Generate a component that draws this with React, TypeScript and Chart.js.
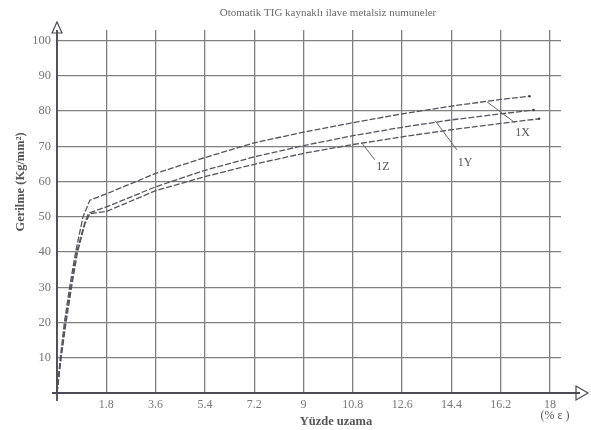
import React, { useEffect, useRef } from 'react';
import { Chart, registerables } from 'chart.js';

Chart.register(...registerables);

const chartTitle = 'Otomatik TIG kaynaklı ilave metalsiz numuneler';
const xAxisTitle = 'Yüzde uzama';
const xUnitLabel = '(% ε )';
const yAxisTitle = 'Gerilme (Kg/mm²)';

const xTickValues = [1.8, 3.6, 5.4, 7.2, 9, 10.8, 12.6, 14.4, 16.2, 18];
const xTickLabels = ['1.8', '3.6', '5.4', '7.2', '9', '10.8', '12.6', '14.4', '16.2', '18'];
const yTickValues = [0, 10, 20, 30, 40, 50, 60, 70, 80, 90, 100];
const yTickLabels = ['', '10', '20', '30', '40', '50', '60', '70', '80', '90', '100'];

const seriesNames = ['1X', '1Y', '1Z'];

const strain1X = [0, 0.12, 0.27, 0.46, 0.68, 0.95, 1.2, 1.8, 3.6, 5.4, 7.2, 9, 10.8, 12.6, 14.4, 16.2, 17.25];
const stress1X = [0, 10, 20, 30, 40, 50, 54.7, 56.5, 62.3, 66.8, 71, 74, 76.7, 79.2, 81.4, 83.3, 84.2];

const strain1Y = [0, 0.14, 0.3, 0.5, 0.72, 1.0, 1.15, 1.8, 3.6, 5.4, 7.2, 9, 10.8, 12.6, 14.4, 16.2, 17.4];
const stress1Y = [0, 10, 20, 30, 40, 48, 51, 52.8, 58.5, 63.2, 67, 70.2, 73, 75.4, 77.5, 79.2, 80.3];

const strain1Z = [0, 0.15, 0.33, 0.53, 0.75, 1.02, 1.2, 1.8, 3.6, 5.4, 7.2, 9, 10.8, 12.6, 14.4, 16.2, 17.6];
const stress1Z = [0, 10, 20, 30, 40, 48, 50.9, 51.5, 57.4, 61.4, 64.9, 68, 70.5, 72.7, 74.7, 76.5, 77.8];

// label text anchor (data units) and leader line (data units)
const labelX = [17.0, 14.9, 11.9];
const labelY = [73.9, 65.3, 64.2];
const leaderFromX = [15.7, 13.8, 11.14];
const leaderFromY = [82.6, 77.3, 70.8];
const leaderToX = [16.72, 14.6, 11.6];
const leaderToY = [76.7, 69, 66.2];

const toPoints = (xs: number[], ys: number[]) => xs.map((x, i) => ({ x, y: ys[i] }));

const SERIF = '"Liberation Serif", "DejaVu Serif", serif';

const decorPlugin = {
  id: 'decor',
  afterDraw(chart: any) {
    const ctx = chart.ctx as CanvasRenderingContext2D;
    const xs = chart.scales.x;
    const ys = chart.scales.y;
    const x0 = xs.getPixelForValue(0);
    const y0 = ys.getPixelForValue(0);
    ctx.save();
    // axes
    ctx.strokeStyle = '#4a4a55';
    ctx.lineWidth = 1.8;
    ctx.beginPath();
    ctx.moveTo(x0 - 5, y0);
    ctx.lineTo(580, y0);
    ctx.moveTo(x0, y0 + 8);
    ctx.lineTo(x0, 30);
    ctx.stroke();
    // arrows
    ctx.lineWidth = 1.2;
    ctx.beginPath();
    ctx.moveTo(576, y0 - 7);
    ctx.lineTo(588, y0);
    ctx.lineTo(576, y0 + 7);
    ctx.closePath();
    ctx.stroke();
    ctx.beginPath();
    ctx.moveTo(x0 - 5, 33);
    ctx.lineTo(x0, 22);
    ctx.lineTo(x0 + 5, 33);
    ctx.closePath();
    ctx.stroke();

    // end dots
    ctx.fillStyle = '#444';
    const ends = [
      [strain1X[strain1X.length - 1], stress1X[stress1X.length - 1]],
      [strain1Y[strain1Y.length - 1], stress1Y[stress1Y.length - 1]],
      [strain1Z[strain1Z.length - 1], stress1Z[stress1Z.length - 1]],
    ];
    ends.forEach(([ex, ey]) => {
      ctx.beginPath();
      ctx.arc(xs.getPixelForValue(ex), ys.getPixelForValue(ey), 1.3, 0, Math.PI * 2);
      ctx.fill();
    });

    // leaders and labels
    ctx.strokeStyle = '#666';
    ctx.lineWidth = 1;
    ctx.fillStyle = '#555';
    ctx.font = `12px ${SERIF}`;
    ctx.textAlign = 'center';
    ctx.textBaseline = 'middle';
    seriesNames.forEach((name, i) => {
      ctx.beginPath();
      ctx.moveTo(xs.getPixelForValue(leaderFromX[i]), ys.getPixelForValue(leaderFromY[i]));
      ctx.lineTo(xs.getPixelForValue(leaderToX[i]), ys.getPixelForValue(leaderToY[i]));
      ctx.stroke();
      ctx.fillText(name, xs.getPixelForValue(labelX[i]), ys.getPixelForValue(labelY[i]));
    });

    // title
    ctx.fillStyle = '#6a6a6a';
    ctx.font = `11px ${SERIF}`;
    ctx.fillText(chartTitle, 328, 13);

    // x axis title
    ctx.fillStyle = '#555';
    ctx.font = `bold 12.5px ${SERIF}`;
    ctx.fillText(xAxisTitle, 336, 422);
    ctx.font = `12px ${SERIF}`;
    ctx.fillStyle = '#555';
    ctx.fillText(xUnitLabel, 555, 416);

    // y axis title
    ctx.save();
    ctx.translate(21, 182);
    ctx.rotate(-Math.PI / 2);
    ctx.font = `bold 12.5px ${SERIF}`;
    ctx.fillStyle = '#555';
    ctx.fillText(yAxisTitle, 0, 0);
    ctx.restore();

    ctx.restore();
  },
};

const bgPlugin = {
  id: 'bg',
  beforeDraw(chart: any) {
    const ctx = chart.ctx;
    ctx.save();
    ctx.fillStyle = '#ffffff';
    ctx.fillRect(0, 0, chart.width, chart.height);
    ctx.restore();
  },
};

export default function App() {
  const ref = useRef<HTMLCanvasElement | null>(null);
  useEffect(() => {
    if (!ref.current) return;
    const lineStyle = {
      borderColor: '#55555e',
      borderWidth: 1.3,
      borderDash: [6, 2],
      pointRadius: 0,
      fill: false,
      tension: 0,
    };
    const chart = new Chart(ref.current, {
      type: 'line',
      data: {
        datasets: [
          { label: seriesNames[0], data: toPoints(strain1X, stress1X), ...lineStyle },
          { label: seriesNames[1], data: toPoints(strain1Y, stress1Y), ...lineStyle },
          { label: seriesNames[2], data: toPoints(strain1Z, stress1Z), ...lineStyle },
        ],
      },
      options: {
        animation: false,
        responsive: true,
        maintainAspectRatio: false,
        layout: { padding: { left: 0, right: 30, top: 30, bottom: 0 } },
        plugins: {
          legend: { display: false },
          title: { display: false },
          tooltip: { enabled: false },
        },
        scales: {
          x: {
            type: 'linear',
            min: 0,
            max: 18.4,
            afterBuildTicks: (s: any) => {
              s.ticks = [0, ...xTickValues].map((v) => ({ value: v }));
            },
            afterFit: (s: any) => {
              s.height = 37;
            },
            ticks: {
              autoSkip: false,
              maxRotation: 0,
              padding: 5,
              color: '#777',
              font: { family: SERIF, size: 12 },
              callback: (v: any) => {
                const i = xTickValues.indexOf(Number(v));
                return i >= 0 ? xTickLabels[i] : '';
              },
            },
            grid: { color: '#808080', lineWidth: 1.3, drawTicks: false },
            border: { display: false },
          },
          y: {
            type: 'linear',
            min: 0,
            max: 103,
            afterBuildTicks: (s: any) => {
              s.ticks = yTickValues.map((v) => ({ value: v }));
            },
            afterFit: (s: any) => {
              s.width = 57;
            },
            ticks: {
              autoSkip: false,
              padding: 6,
              color: '#777',
              font: { family: SERIF, size: 12.5 },
              callback: (v: any) => {
                const i = yTickValues.indexOf(Number(v));
                return i >= 0 ? yTickLabels[i] : '';
              },
            },
            grid: { color: '#808080', lineWidth: 1.3, drawTicks: false },
            border: { display: false },
          },
        },
      },
      plugins: [bgPlugin, decorPlugin],
    });
    return () => chart.destroy();
  }, []);
  return (
    <div style={{ position: 'absolute', left: 0, top: 0, width: 591, height: 430, background: '#fff' }}>
      <canvas ref={ref} />
    </div>
  );
}
